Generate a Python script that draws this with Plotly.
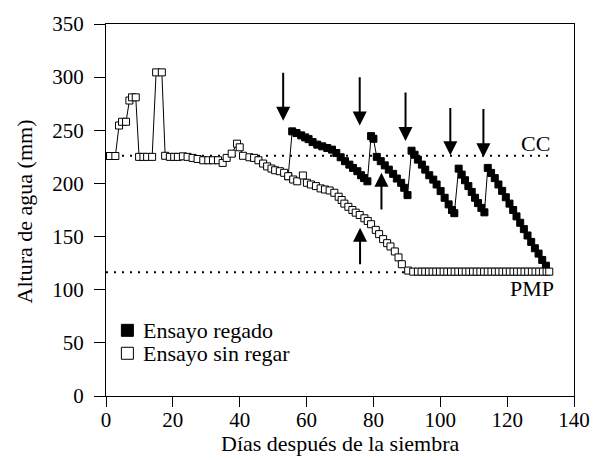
import plotly.graph_objects as go

# Ensayo sin regar (open squares)
sin_days = [0, 1.2, 2.8, 3.9, 4.8, 6.0, 7.0, 7.8, 8.9, 9.9, 11.2, 12.3, 13.8, 15.0, 16.7,
            17.7, 19.1, 20.4, 21.5, 23.0, 24.4, 25.9, 27.4, 29.1, 30.6, 32.0, 33.5, 34.9,
            36.1, 37.6, 39.2, 40.0, 41.0, 42.9, 44.3, 45.6, 47.0, 48.2, 49.5, 50.6, 52.0,
            53.3, 54.5, 56.0, 57.2, 58.9, 60.1, 61.3, 62.8, 64.2, 65.5, 66.9, 68.3, 69.6,
            70.5, 71.3, 72.5, 73.7, 74.7, 75.9, 77.3, 78.3, 79.3, 80.7, 81.7, 82.9, 84.1,
            85.1, 86.4, 87.5, 88.5, 90.4, 91.9,
            93.3, 94.4, 95.5, 96.6, 97.7, 98.8, 99.9, 101.0, 102.1, 103.2, 104.3, 105.4,
            106.5, 107.6, 108.7, 109.8, 110.9, 112.0, 113.1, 114.2, 115.3, 116.4, 117.5,
            118.6, 119.7, 120.8, 121.9, 123.0, 124.1, 125.2, 126.3, 127.4, 128.5, 129.6,
            130.7, 131.8, 132.6]
sin_vals = [225.8, 225.8, 225.8, 254.5, 258, 258, 278, 281, 281, 225, 225, 225, 225, 304.5, 304.5,
            226, 225, 225, 225, 225.5, 225, 224, 223, 221.8, 221.8, 221.8, 221.8, 219.3,
            224, 228, 237.4, 234, 226, 224.6, 224, 221.8, 218.7, 216, 214, 212.4, 211.5,
            210, 206.8, 203.7, 202, 207.5, 200.6, 199, 197.5, 195.3, 194.3, 193.4, 191.2, 187.5,
            184.4, 181, 178, 175, 172.5, 170.3, 167.2, 164.7, 161.6, 156.3, 152.3, 147.6, 143.8,
            140.7, 136, 130.4, 124, 118, 117,
            117, 117, 117, 117, 117, 117, 117, 117, 117, 117, 117, 117,
            117, 117, 117, 117, 117, 117, 117, 117, 117, 117, 117,
            117, 117, 117, 117, 117, 117, 117, 117, 117, 117, 117,
            117, 117, 117]

# Ensayo regado (filled squares)
reg_days = [54.5, 55.7, 57.0, 58.4, 59.6, 60.6, 61.8, 63.2, 64.7, 66.2, 67.6, 68.9, 70.2,
            71.5, 72.8, 73.9, 75.2, 76.3, 77.2, 78.2, 79.3, 80.0, 81.0, 82.2, 83.4, 84.6,
            85.9, 87.0, 88.3, 89.2, 90.2, 91.4, 92.3, 93.3, 94.5, 95.5, 96.7, 97.9, 98.9,
            100.1, 101.3, 102.5, 103.5, 104.2, 105.5, 106.4, 107.4, 108.4, 109.4, 110.4,
            111.3, 112.3, 113.2, 114.2, 115.2, 116.3, 117.4, 118.5, 119.6, 120.7, 121.8,
            122.8, 123.9, 125.0, 126.1, 127.2, 128.3, 129.4, 130.5, 131.6]
reg_vals = [206.8, 249, 247.4, 245.2, 243.3, 241.7, 238.9, 236.5, 234.9, 233.3, 231.8, 228.6, 224.6,
            220.9, 217.7, 214.6, 211.5, 207.7, 205, 202, 244.5, 242, 225, 220.9, 217, 213,
            209, 204.6, 200.6, 195.9, 189, 230.8, 227, 222.4, 217.7, 213, 207.7, 203.6, 199,
            192.8, 186.5, 180.3, 175, 172, 213.9, 208.3, 203, 197.5, 192, 186.5,
            181.5, 177, 172.8, 214.6, 209.9, 205, 199, 193, 187, 181, 175,
            169, 163, 157, 151, 145, 139, 134, 128, 122.6]

series_names = ["Ensayo regado", "Ensayo sin regar"]

# Reference levels
cc_level = 226
pmp_level = 116.5
ref_end = 132.6
level_labels = ["CC", "PMP"]

# Arrows: (x, y_tail, y_tip)
down_arrows = [(53.0, 305.6, 258.9), (75.9, 301.3, 254.5), (89.6, 287.0, 240.0),
               (103.0, 272.3, 226.5), (112.9, 271.4, 224.6)]
up_arrows = [(82.4, 174.0, 210.0), (76.0, 122.6, 158.4)]

x_ticks = [0, 20, 40, 60, 80, 100, 120, 140]
y_ticks = [0, 50, 100, 150, 200, 250, 300, 350]

FONT = "Liberation Serif, Times New Roman, serif"
FS_TICK = 21
FS = 22

fig = go.Figure()

fig.add_trace(go.Scatter(
    x=reg_days, y=reg_vals, mode="lines+markers", name=series_names[0],
    line=dict(color="black", width=1),
    marker=dict(symbol="square", size=7, color="black", line=dict(color="black", width=1)),
    showlegend=False, hoverinfo="skip"))
fig.add_trace(go.Scatter(
    x=sin_days, y=sin_vals, mode="lines+markers", name=series_names[1],
    line=dict(color="black", width=1),
    marker=dict(symbol="square", size=7, color="white", line=dict(color="black", width=1)),
    showlegend=False, hoverinfo="skip"))

# in-plot legend (key markers placed in data space)
key_x = [6.4, 6.4]
key_y = [61.8, 40.2]
fig.add_trace(go.Scatter(
    x=key_x, y=key_y, mode="markers", showlegend=False, hoverinfo="skip",
    marker=dict(symbol="square", size=12, color=["black", "white"],
                line=dict(color="black", width=1))))

for lvl in (cc_level, pmp_level):
    fig.add_shape(type="line", xref="x", yref="y", x0=0, x1=ref_end, y0=lvl, y1=lvl,
                  line=dict(color="black", width=2, dash="2px,6px"), layer="below")

annotations = []
for (x, yt, yh) in down_arrows + up_arrows:
    annotations.append(dict(x=x, y=yh, ax=x, ay=yt, xref="x", yref="y", axref="x", ayref="y",
                            showarrow=True, arrowhead=2, arrowsize=1.4, arrowwidth=2,
                            arrowcolor="black", text=""))
for name, ky in zip(series_names, key_y):
    annotations.append(dict(x=10.6, y=ky, xref="x", yref="y", text=name, showarrow=False,
                            xanchor="left", yanchor="middle",
                            font=dict(family=FONT, size=FS, color="black")))
annotations.append(dict(x=128.5, y=238, xref="x", yref="y", text=level_labels[0], showarrow=False,
                        font=dict(family=FONT, size=FS, color="black")))
annotations.append(dict(x=127.3, y=101, xref="x", yref="y", text=level_labels[1], showarrow=False,
                        font=dict(family=FONT, size=FS, color="black")))
annotations.append(dict(x=0.5, y=-0.128, xref="paper", yref="paper", text="Días después de la siembra",
                        showarrow=False, xanchor="center", yanchor="middle",
                        font=dict(family=FONT, size=FS, color="black")))
annotations.append(dict(x=-0.1746, y=0.497, xref="paper", yref="paper", text="Altura de agua (mm)",
                        showarrow=False, xanchor="center", yanchor="middle", textangle=-90,
                        font=dict(family=FONT, size=FS, color="black")))

fig.update_layout(
    width=602, height=460,
    margin=dict(l=106, r=15, t=22, b=64),
    paper_bgcolor="white", plot_bgcolor="white",
    font=dict(family=FONT, size=FS, color="black"),
    annotations=annotations,
    showlegend=False,
    xaxis=dict(range=[0, 140], tickvals=x_ticks, ticks="outside", ticklen=10, tickwidth=1,
               tickcolor="black", showline=True, linecolor="black", linewidth=1, mirror=True,
               showgrid=False, zeroline=False, tickfont=dict(family=FONT, size=FS_TICK),
               ticklabelstandoff=-5, ticklabeloverflow="allow"),
    yaxis=dict(range=[0, 350], tickvals=y_ticks, ticks="outside", ticklen=11, tickwidth=1,
               tickcolor="black", showline=True, linecolor="black", linewidth=1, mirror=True,
               showgrid=False, zeroline=False, tickfont=dict(family=FONT, size=FS_TICK),
               ticklabelstandoff=6, ticklabeloverflow="allow"),
)

fig.write_html("out.html")
